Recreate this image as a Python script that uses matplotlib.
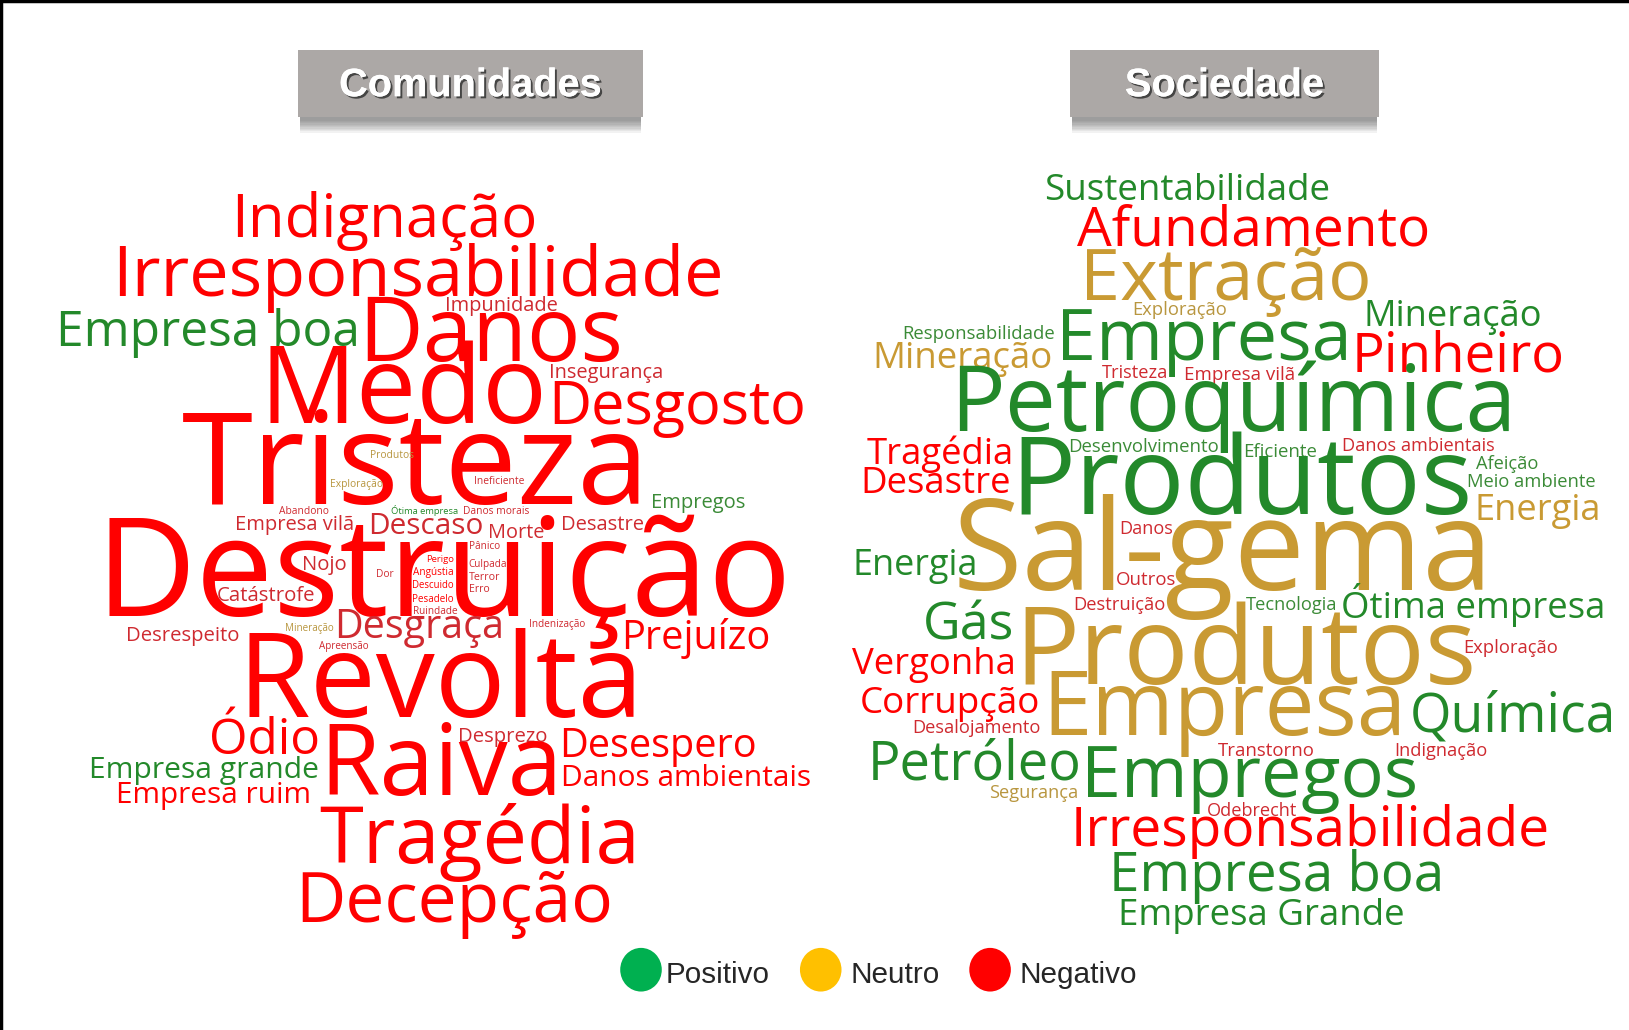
import matplotlib
matplotlib.use('Agg')
import matplotlib.pyplot as plt
import matplotlib.patheffects as pe
from matplotlib.patches import Rectangle, Ellipse

# words of each cloud and their sentiment
com_title = 'Comunidades'
com_words = ['Indignação', 'Irresponsabilidade', 'Empresa boa', 'Impunidade', 'Danos', 'Medo',
             'Insegurança', 'Desgosto', 'Tristeza', 'Produtos', 'Exploração', 'Ineficiente',
             'Empregos', 'Abandono', 'Ótima empresa', 'Danos morais', 'Empresa vilã', 'Descaso',
             'Morte', 'Desastre', 'Destruição', 'Pânico', 'Nojo', 'Perigo', 'Culpada', 'Angústia',
             'Dor', 'Terror', 'Descuido', 'Erro', 'Pesadelo', 'Ruindade', 'Catástrofe',
             'Desrespeito', 'Mineração', 'Apreensão', 'Desgraça', 'Indenização', 'Prejuízo',
             'Revolta', 'Ódio', 'Desprezo', 'Desespero', 'Empresa grande', 'Raiva',
             'Empresa ruim', 'Danos ambientais', 'Tragédia', 'Decepção']
com_sentiment = ['neg', 'neg', 'pos', 'neg', 'neg', 'neg',
                 'neg', 'neg', 'neg', 'neu', 'neu', 'neg',
                 'pos', 'neg', 'pos', 'neg', 'neg', 'neg',
                 'neg', 'neg', 'neg', 'neg', 'neg', 'neg', 'neg', 'neg',
                 'neg', 'neg', 'neg', 'neg', 'neg', 'neg', 'neg',
                 'neg', 'neu', 'neg', 'neg', 'neg', 'neg',
                 'neg', 'neg', 'neg', 'neg', 'pos', 'neg',
                 'neg', 'neg', 'neg', 'neg']

soc_title = 'Sociedade'
soc_words = ['Sustentabilidade', 'Afundamento', 'Extração', 'Exploração', 'Mineração',
             'Responsabilidade', 'Empresa', 'Mineração', 'Pinheiro', 'Tristeza', 'Empresa vilã',
             'Petroquímica', 'Desenvolvimento', 'Eficiente', 'Danos ambientais', 'Tragédia',
             'Afeição', 'Desastre', 'Produtos', 'Meio ambiente', 'Energia', 'Danos', 'Sal-gema',
             'Energia', 'Outros', 'Destruição', 'Tecnologia', 'Ótima empresa', 'Gás', 'Produtos',
             'Exploração', 'Vergonha', 'Corrupção', 'Empresa', 'Química', 'Desalojamento',
             'Petróleo', 'Transtorno', 'Indignação', 'Empregos', 'Segurança', 'Odebrecht',
             'Irresponsabilidade', 'Empresa boa', 'Empresa Grande']
soc_sentiment = ['pos', 'neg', 'neu', 'neu', 'pos',
                 'pos', 'pos', 'neu', 'neg', 'neg', 'neg',
                 'pos', 'pos', 'pos', 'neg', 'neg',
                 'pos', 'neg', 'pos', 'pos', 'neu', 'neg', 'neu',
                 'pos', 'neg', 'neg', 'pos', 'pos', 'pos', 'neu',
                 'neg', 'neg', 'neg', 'neu', 'pos', 'neg',
                 'pos', 'neg', 'neg', 'pos', 'neu', 'neg',
                 'neg', 'pos', 'pos']

legend_labels = ['Positivo', 'Neutro', 'Negativo']
legend_keys = ['pos', 'neu', 'neg']

# layout: left x, baseline y, ink width (in 1568x991 preview units), strong/soft tone
com_layout = [
    (222, 228, 295, 1), (108, 285, 589, 1), (54, 333, 293, 1), (428, 299, 109, 0),
    (345, 347, 255, 1), (250, 407, 277, 1), (528, 364, 110, 0), (528, 408, 249, 1),
    (175, 485, 451, 1), (356, 441, 42, 0), (318, 469, 51, 0), (456, 466, 48, 0),
    (627, 489, 91, 0), (269, 495, 48, 0), (376, 495, 65, 1), (446, 495, 64, 0),
    (226, 510, 115, 0), (354, 514, 111, 0), (470, 518, 54, 0), (540, 510, 80, 0),
    (92, 593, 670, 1), (451, 528, 30, 0), (291, 548, 43, 0), (410, 541, 27, 1),
    (451, 546, 37, 0), (398, 553, 39, 1), (362, 555, 17, 0), (451, 558, 30, 0),
    (397, 566, 40, 1), (451, 570, 20, 0), (397, 579, 40, 1), (398, 591, 43, 0),
    (209, 578, 95, 0), (121, 617, 109, 0), (274, 607, 47, 0), (307, 624, 48, 0),
    (322, 614, 164, 0), (509, 603, 54, 0), (598, 624, 144, 1), (229, 690, 391, 1),
    (201, 725, 107, 1), (441, 714, 86, 0), (538, 728, 190, 1), (86, 749, 221, 1),
    (307, 765, 234, 1), (112, 773, 188, 1), (540, 756, 242, 1), (307, 830, 309, 1),
    (284, 887, 306, 1),
]
soc_layout = [
    (1005, 192, 276, 1), (1037, 236, 340, 1), (1040, 289, 281, 1), (1090, 303, 91, 0),
    (1312, 314, 172, 1), (868, 326, 147, 0), (1016, 346, 285, 1), (840, 354, 174, 1),
    (1301, 357, 205, 1), (1061, 364, 64, 0), (1140, 366, 107, 0), (915, 415, 545, 1),
    (1028, 435, 145, 0), (1197, 440, 71, 0), (1292, 434, 148, 0), (834, 446, 142, 1),
    (1421, 451, 60, 0), (828, 474, 145, 1), (973, 495, 445, 1), (1412, 469, 124, 0),
    (1419, 500, 122, 1), (1077, 514, 52, 0), (917, 568, 521, 1), (821, 553, 121, 1),
    (1074, 563, 58, 0), (1033, 587, 89, 0), (1199, 587, 88, 0), (1291, 595, 255, 1),
    (888, 615, 88, 1), (976, 658, 445, 1), (1408, 628, 91, 0), (820, 648, 158, 1),
    (828, 686, 174, 1), (1003, 707, 351, 1), (1357, 704, 199, 1), (878, 705, 124, 0),
    (835, 750, 206, 1), (1172, 727, 93, 0), (1342, 727, 90, 0), (1041, 767, 325, 1),
    (952, 768, 86, 0), (1162, 785, 87, 0), (1031, 814, 461, 1), (1067, 857, 323, 1),
    (1076, 890, 276, 1),
]

tones = {
    'neg': ('#cf2a30', '#ff0000'),
    'pos': ('#3b8b37', '#23892a'),
    'neu': ('#b8963f', '#c99a33'),
}
legend_colors = {'pos': '#00b050', 'neu': '#ffc000', 'neg': '#ff0000'}

W, H = 1568, 991
fig = plt.figure(figsize=(16.29, 10.30), dpi=100)
ax = fig.add_axes([0, 0, 1, 1])
ax.set_xlim(0, W)
ax.set_ylim(H, 0)
ax.axis('off')
renderer = fig.canvas.get_renderer()
px = 1629 / W


def fit_text(x, y, s, width, **kw):
    t = ax.text(x, y, s, fontsize=50, **kw)
    w = t.get_window_extent(renderer).width
    t.set_fontsize(50 * width * px / w)
    return t


def draw_cloud(words, sentiment, layout):
    for word, sent, (x, y, w, strong) in zip(words, sentiment, layout):
        fit_text(x, y, word, w, family='Open Sans', color=tones[sent][strong],
                 ha='left', va='baseline')


draw_cloud(com_words, com_sentiment, com_layout)
draw_cloud(soc_words, soc_sentiment, soc_layout)

# title boxes with a soft shadow underneath
for title, (x0, x1), tw in [(com_title, (287, 619), 253), (soc_title, (1030, 1327), 192)]:
    for i in range(10):
        ax.add_patch(Rectangle((x0 + 2, 50 + i * 1.3), x1 - x0 - 4, 66,
                               facecolor='#4a4a4a', alpha=0.07, edgecolor='none'))
    ax.add_patch(Rectangle((x0, 48), x1 - x0, 65, facecolor='#aca8a6', edgecolor='none'))
    t = fit_text((x0 + x1) / 2, 82, title, tw, family='Liberation Sans', weight='bold',
                 color='white', ha='center', va='center')
    t.set_path_effects([pe.withSimplePatchShadow(offset=(1.5, -1.5), shadow_rgbFace='#3a3a3a',
                                                 alpha=0.9), pe.Normal()])

# legend
for key, label, cx, tx, tw in zip(legend_keys, legend_labels, [617, 790, 953],
                                  [641, 819, 981], [100, 86, 113]):
    ax.add_patch(Ellipse((cx, 933), 40, 42, facecolor=legend_colors[key], edgecolor='none'))
    fit_text(tx, 946, label, tw, family='Liberation Sans', color='#262626',
             ha='left', va='baseline')

# frame lines on top and left edge
ax.plot([0, W], [0.5, 0.5], color='black', lw=2.5, clip_on=False)
ax.plot([0.5, 0.5], [0, H], color='black', lw=2.5, clip_on=False)

fig.savefig('out.png', dpi=100, facecolor='white')
